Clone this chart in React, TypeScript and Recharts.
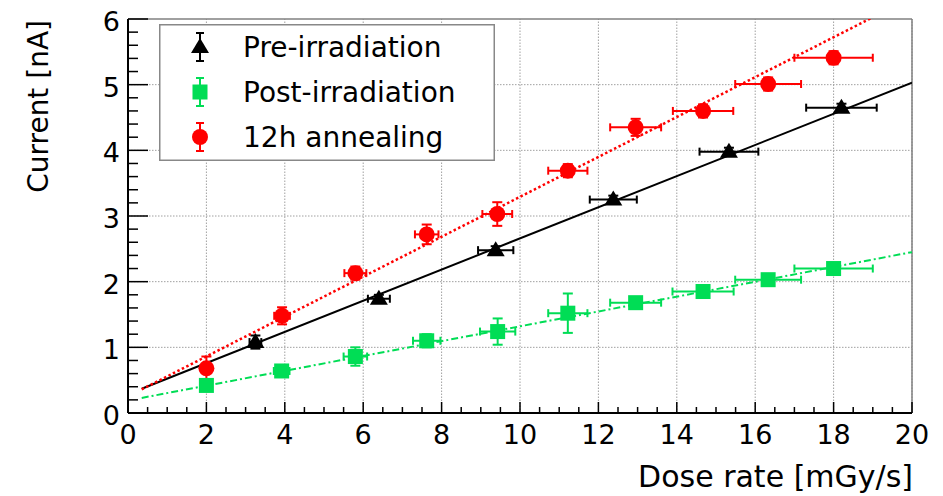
import React from 'react';
import { ComposedChart, Scatter, XAxis, YAxis, ErrorBar, ReferenceLine, Legend, Label } from 'recharts';

const FONT = '"DejaVu Sans", sans-serif';

// Measured points: x = dose rate [mGy/s], y = current [nA], ex/ey = errors
const preIrradiation = [
  { x: 3.25, y: 1.08, ex: 0.15, ey: 0.1 },
  { x: 6.4, y: 1.74, ex: 0.28, ey: 0.06 },
  { x: 9.38, y: 2.48, ex: 0.45, ey: 0.06 },
  { x: 12.38, y: 3.25, ex: 0.6, ey: 0.06 },
  { x: 15.33, y: 3.98, ex: 0.75, ey: 0.06 },
  { x: 18.2, y: 4.65, ex: 0.9, ey: 0.06 },
];

const postIrradiation = [
  { x: 2.0, y: 0.42, ex: 0.1, ey: 0.08 },
  { x: 3.92, y: 0.64, ex: 0.2, ey: 0.08 },
  { x: 5.8, y: 0.86, ex: 0.3, ey: 0.14 },
  { x: 7.62, y: 1.1, ex: 0.35, ey: 0.1 },
  { x: 9.43, y: 1.24, ex: 0.45, ey: 0.2 },
  { x: 11.22, y: 1.52, ex: 0.5, ey: 0.3 },
  { x: 12.95, y: 1.68, ex: 0.65, ey: 0.08 },
  { x: 14.67, y: 1.85, ex: 0.78, ey: 0.08 },
  { x: 16.33, y: 2.03, ex: 0.84, ey: 0.08 },
  { x: 18.0, y: 2.2, ex: 1.0, ey: 0.08 },
];

const annealing12h = [
  { x: 2.0, y: 0.68, ex: 0.1, ey: 0.18 },
  { x: 3.93, y: 1.48, ex: 0.2, ey: 0.13 },
  { x: 5.8, y: 2.13, ex: 0.28, ey: 0.1 },
  { x: 7.62, y: 2.72, ex: 0.3, ey: 0.15 },
  { x: 9.42, y: 3.03, ex: 0.38, ey: 0.18 },
  { x: 11.22, y: 3.69, ex: 0.5, ey: 0.1 },
  { x: 12.95, y: 4.35, ex: 0.65, ey: 0.13 },
  { x: 14.67, y: 4.6, ex: 0.77, ey: 0.1 },
  { x: 16.33, y: 5.01, ex: 0.84, ey: 0.1 },
  { x: 18.0, y: 5.41, ex: 1.0, ey: 0.1 },
];

// Linear fits (end points)
const fitPre = [
  { x: 0.35, y: 0.37 },
  { x: 20, y: 5.03 },
];
const fitPost = [
  { x: 0.35, y: 0.23 },
  { x: 20, y: 2.45 },
];
const fitAnneal = [
  { x: 0.35, y: 0.36 },
  { x: 20, y: 6.33 },
];

const xMajorTicks = [0, 2, 4, 6, 8, 10, 12, 14, 16, 18, 20];
const yMajorTicks = [0, 1, 2, 3, 4, 5, 6];
const xAllTicks = xMajorTicks.flatMap((t, i) =>
  i < xMajorTicks.length - 1 ? [t, t + 0.5, t + 1, t + 1.5] : [t]
);
const yAllTicks = yMajorTicks.flatMap((t, i) =>
  i < yMajorTicks.length - 1
    ? [0, 0.2, 0.4, 0.6, 0.8].map((d) => Math.round((t + d) * 10) / 10)
    : [t]
);

const BLACK = '#000000';
const GREEN = '#00dd55';
const RED = '#ff0000';

const legendItems = [
  { name: 'Pre-irradiation', color: BLACK, shape: 'triangle' },
  { name: 'Post-irradiation', color: GREEN, shape: 'square' },
  { name: '12h annealing', color: RED, shape: 'circle' },
];

function marker(shape: string, cx: number, cy: number, color: string) {
  if (shape === 'triangle') {
    return (
      <polygon
        points={`${cx},${cy - 9} ${cx - 9},${cy + 6} ${cx + 9},${cy + 6}`}
        fill={color}
      />
    );
  }
  if (shape === 'square') {
    return <rect x={cx - 7.5} y={cy - 7.5} width={15} height={15} fill={color} />;
  }
  return <circle cx={cx} cy={cy} r={8} fill={color} />;
}

const XTick = (props: any) => {
  const { x, y, payload } = props;
  const v = payload.value;
  const major = xMajorTicks.includes(v);
  return (
    <g>
      <line x1={x} x2={x} y1={y} y2={y - (major ? 11 : 6)} stroke="#000" strokeWidth={1.5} />
      {major && (
        <text x={x} y={y + 31} textAnchor="middle" fontFamily={FONT} fontSize={27} fill="#000">
          {v}
        </text>
      )}
    </g>
  );
};

const YTick = (props: any) => {
  const { x, y, payload } = props;
  const v = payload.value;
  const major = yMajorTicks.includes(v);
  return (
    <g>
      <line x1={x} x2={x + (major ? 20 : 10)} y1={y} y2={y} stroke="#000" strokeWidth={1.5} />
      {major && (
        <text x={x - 8} y={y + 12} textAnchor="end" fontFamily={FONT} fontSize={27} fill="#000">
          {v}
        </text>
      )}
    </g>
  );
};

const LegendBox = () => (
  <svg width={336} height={137} style={{ display: 'block' }}>
    <rect x={0.75} y={0.75} width={334.5} height={135.5} fill="#fff" stroke="#888" strokeWidth={1.5} />
    {legendItems.map((it, i) => {
      const cy = 23 + i * 45;
      const cx = 41;
      return (
        <g key={it.name}>
          <line x1={cx} x2={cx} y1={cy - 14} y2={cy + 14} stroke={it.color} strokeWidth={2} />
          <line x1={cx - 4} x2={cx + 4} y1={cy - 14} y2={cy - 14} stroke={it.color} strokeWidth={2} />
          <line x1={cx - 4} x2={cx + 4} y1={cy + 14} y2={cy + 14} stroke={it.color} strokeWidth={2} />
          {marker(it.shape, cx, cy, it.color)}
          <text x={84} y={cy + 10} fontFamily={FONT} fontSize={28} fill="#000">
            {it.name}
          </text>
        </g>
      );
    })}
  </svg>
);

const noShape = () => <g />;

export default function App() {
  return (
    <div style={{ position: 'absolute', left: 0, top: 0, width: 943, height: 496, background: '#fff' }}>
      <ComposedChart
        width={943}
        height={496}
        margin={{ top: 19, right: 31, left: 0, bottom: 0 }}
      >
        <XAxis
          type="number"
          dataKey="x"
          domain={[0, 20]}
          ticks={xAllTicks}
          interval={0}
          tickSize={0}
          tickMargin={0}
          tick={<XTick />}
          height={83}
          allowDataOverflow
          axisLine={{ stroke: '#000', strokeWidth: 2 }}
        >
          <Label
            content={(p: any) => {
              const vb = p.viewBox || { x: 128, y: 413, width: 784, height: 83 };
              return (
                <text
                  x={vb.x + vb.width + 1}
                  y={vb.y + 74}
                  textAnchor="end"
                  fontFamily={FONT}
                  fontSize={30}
                  fill="#000"
                >
                  Dose rate [mGy/s]
                </text>
              );
            }}
          />
        </XAxis>
        <YAxis
          type="number"
          dataKey="y"
          domain={[0, 6]}
          ticks={yAllTicks}
          interval={0}
          tickSize={0}
          tickMargin={0}
          tick={<YTick />}
          width={128}
          allowDataOverflow
          axisLine={{ stroke: '#000', strokeWidth: 2 }}
        >
          <Label
            content={(p: any) => {
              const vb = p.viewBox || { x: 0, y: 19, width: 128, height: 394 };
              const tx = vb.x + 48;
              const ty = vb.y + 1;
              return (
                <text
                  x={tx}
                  y={ty}
                  transform={`rotate(-90 ${tx} ${ty})`}
                  textAnchor="end"
                  fontFamily={FONT}
                  fontSize={28}
                  fill="#000"
                >
                  Current [nA]
                </text>
              );
            }}
          />
        </YAxis>

        {xMajorTicks.slice(1).map((t) => (
          <ReferenceLine key={'gx' + t} x={t} stroke="#a0a0a0" strokeWidth={1} strokeDasharray="1.5 1.5" />
        ))}
        {yMajorTicks.slice(1, -1).map((t) => (
          <ReferenceLine key={'gy' + t} y={t} stroke="#a0a0a0" strokeWidth={1} strokeDasharray="1.5 1.5" />
        ))}
        <ReferenceLine y={6} stroke="#808080" strokeWidth={1.5} />
        <ReferenceLine x={20} stroke="#808080" strokeWidth={1.5} />

        <Scatter
          name="fit-post"
          data={fitPost}
          fill={GREEN}
          line={{ stroke: GREEN, strokeWidth: 2, strokeDasharray: '7 3 2 3' }}
          shape={noShape}
          isAnimationActive={false}
          legendType="none"
        />
        <Scatter
          name="fit-pre"
          data={fitPre}
          fill={BLACK}
          line={{ stroke: BLACK, strokeWidth: 2 }}
          shape={noShape}
          isAnimationActive={false}
          legendType="none"
        />
        <Scatter
          name="fit-anneal"
          data={fitAnneal}
          fill={RED}
          line={{ stroke: RED, strokeWidth: 2.5, strokeDasharray: '2.5 2.5' }}
          shape={noShape}
          isAnimationActive={false}
          legendType="none"
        />

        <Scatter
          name="Post-irradiation"
          data={postIrradiation}
          fill={GREEN}
          shape={(p: any) => marker('square', p.cx, p.cy, GREEN)}
          isAnimationActive={false}
        >
          <ErrorBar dataKey="ey" direction="y" width={5} stroke={GREEN} strokeWidth={2} />
          <ErrorBar dataKey="ex" direction="x" width={4} stroke={GREEN} strokeWidth={2} />
        </Scatter>
        <Scatter
          name="Pre-irradiation"
          data={preIrradiation}
          fill={BLACK}
          shape={(p: any) => marker('triangle', p.cx, p.cy, BLACK)}
          isAnimationActive={false}
        >
          <ErrorBar dataKey="ey" direction="y" width={5} stroke={BLACK} strokeWidth={2} />
          <ErrorBar dataKey="ex" direction="x" width={4} stroke={BLACK} strokeWidth={2} />
        </Scatter>
        <Scatter
          name="12h annealing"
          data={annealing12h}
          fill={RED}
          shape={(p: any) => marker('circle', p.cx, p.cy, RED)}
          isAnimationActive={false}
        >
          <ErrorBar dataKey="ey" direction="y" width={5} stroke={RED} strokeWidth={2} />
          <ErrorBar dataKey="ex" direction="x" width={4} stroke={RED} strokeWidth={2} />
        </Scatter>

        <Legend
          layout="vertical"
          align="center"
          verticalAlign="middle"
          content={() => <LegendBox />}
          wrapperStyle={{ left: 159, top: 24, width: 336, height: 137 }}
        />
      </ComposedChart>
    </div>
  );
}
